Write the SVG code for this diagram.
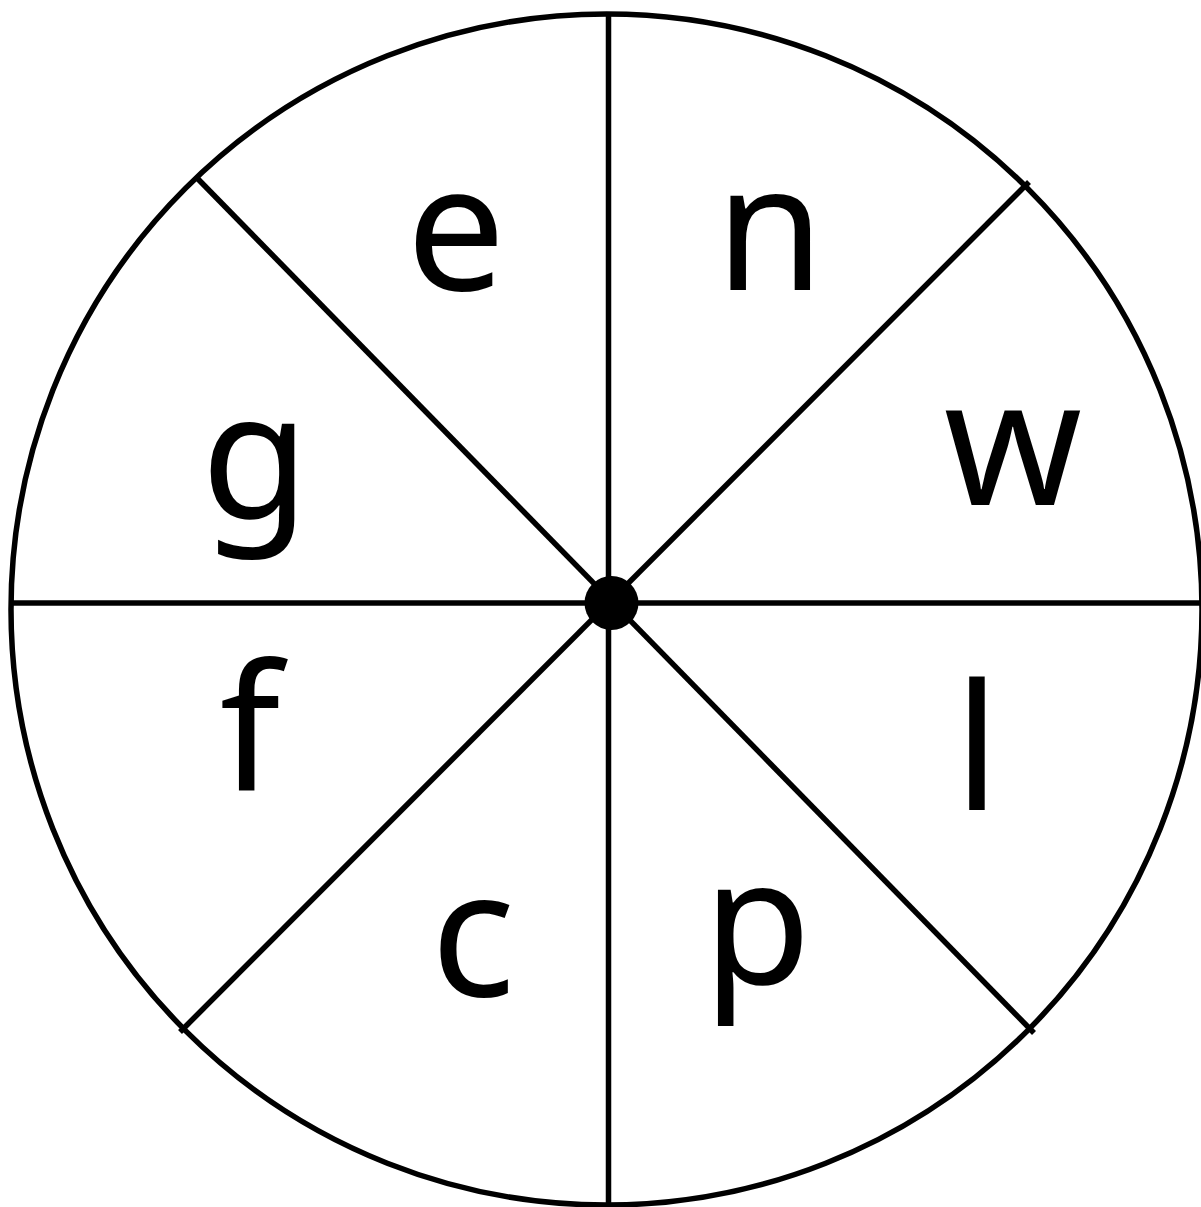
<svg xmlns="http://www.w3.org/2000/svg" width="1201" height="1207" viewBox="0 0 1201 1207">
<style>
.ln{stroke:#000;stroke-width:5.5;fill:none}
.lb{font-family:"Noto Sans","Open Sans","Liberation Sans",sans-serif;font-size:176px;fill:#000;text-anchor:middle}
</style>
<rect width="1201" height="1207" fill="#fff"/>
<g id="wheel">
<circle class="ln" cx="606.5" cy="609.5" r="595.5"/>
</g>
<g id="connectors">
<line class="ln" x1="608.5" y1="14" x2="608.5" y2="1207"/>
<line class="ln" x1="11" y1="603" x2="1201" y2="603"/>
<line class="ln" x1="198" y1="179" x2="1034" y2="1033"/>
<line class="ln" x1="1029" y1="182" x2="180" y2="1032"/>
</g>
<g id="hub"><circle cx="611.5" cy="603" r="27" fill="#000"/></g>
<g id="n-e"><text class="lb" x="456" y="290">e</text></g>
<g id="n-n"><text class="lb" x="770" y="290">n</text></g>
<g id="n-w"><text class="lb" x="1013" y="505">w</text></g>
<g id="n-g"><text class="lb" x="255" y="518">g</text></g>
<g id="n-f"><text class="lb" x="250" y="790">f</text></g>
<g id="n-l"><text class="lb" x="977" y="810">l</text></g>
<g id="n-c"><text class="lb" x="473" y="996">c</text></g>
<g id="n-p"><text class="lb" x="757" y="984">p</text></g>
</svg>
